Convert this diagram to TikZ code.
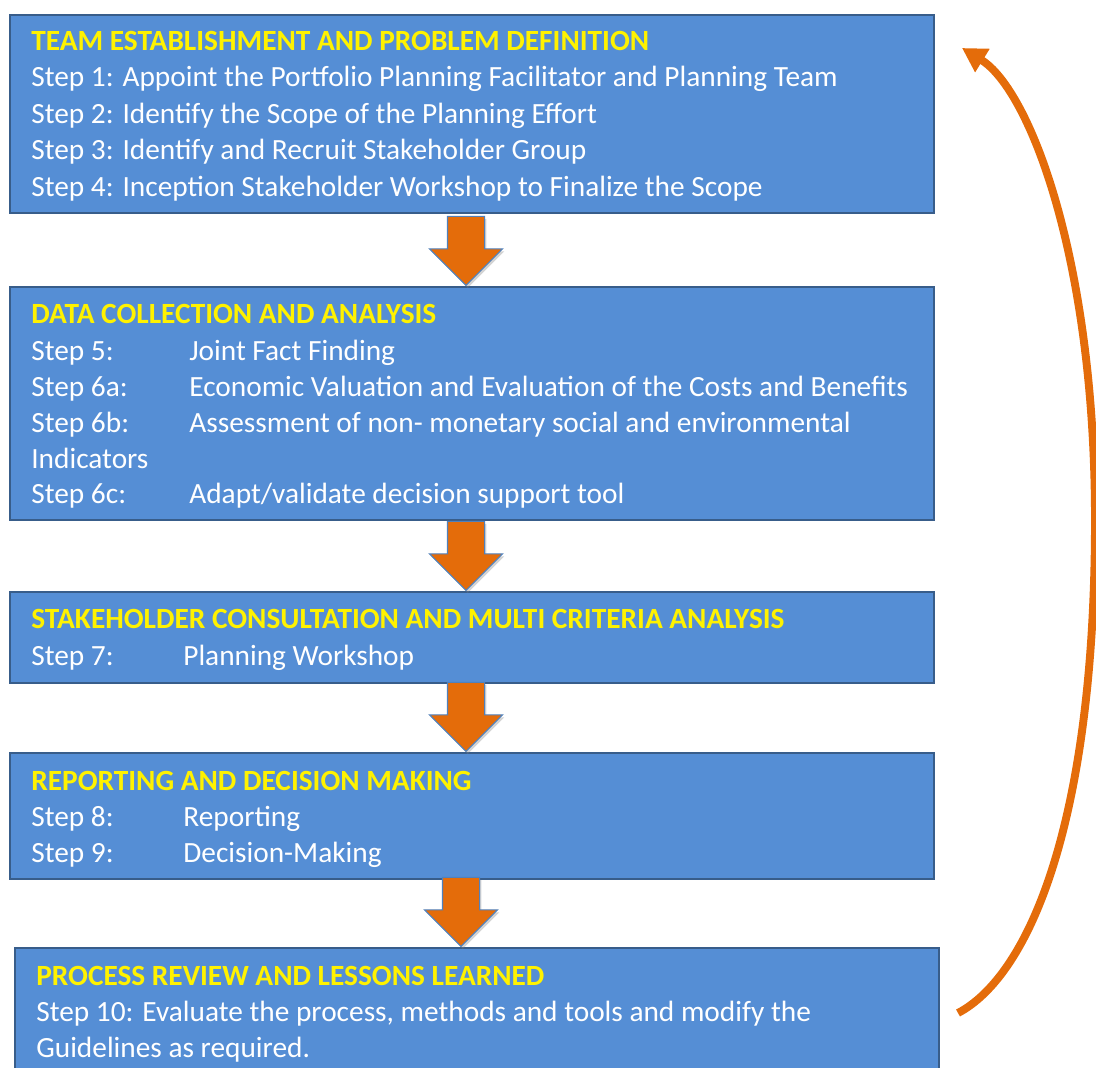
\documentclass[tikz,border=0pt]{standalone}
\usepackage{fontspec}
\setmainfont{Carlito}
\usetikzlibrary{shapes.arrows,arrows.meta,shadows,calc}
\definecolor{boxblue}{RGB}{85,142,213}
\definecolor{boxline}{RGB}{56,93,138}
\definecolor{arrowline}{RGB}{79,129,189}
\definecolor{loopor}{RGB}{228,108,10}
\tikzset{
	stagebox/.style={draw=boxline,line width=1.1pt,fill=boxblue,rectangle,minimum width=18.48cm,inner sep=0pt},
	stagetitle/.style={anchor=base west,inner sep=0pt,text=yellow,font=\fontsize{16.7pt}{20pt}\selectfont\bfseries},
	steptext/.style={anchor=base west,inner sep=0pt,text=white,font=\fontsize{16.7pt}{20pt}\selectfont},
	downarrow/.style={single arrow,shape border rotate=270,anchor=tip,draw=arrowline,line width=0.6pt,fill=loopor,
		minimum height=1.38cm,minimum width=1.44cm,single arrow head extend=0.36cm,inner sep=0.36cm,
		drop shadow={opacity=0.35,shadow xshift=1pt,shadow yshift=-1.5pt}},
}
\begin{document}
\begin{tikzpicture}[x=0.02cm,y=-0.02cm]
	\useasboundingbox (0,0) rectangle (1096,1068) ;
	% boxes
	\node[stagebox,minimum height=3.96cm] (b1) at (472,114) {} ;
	\node[stagebox,minimum height=4.66cm] (b2) at (472,403.5) {} ;
	\node[stagebox,minimum height=1.82cm] (b3) at (472,637.5) {} ;
	\node[stagebox,minimum height=2.52cm] (b4) at (472,816) {} ;
	\node[stagebox,minimum height=2.8cm] (b5) at (477,1018) {} ;
	% block arrows
	\node[downarrow] (a1) at (466,0 |- b2.north) {} ;
	\node[downarrow] (a2) at (466,0 |- b3.north) {} ;
	\node[downarrow] (a3) at (466,0 |- b4.north) {} ;
	\node[downarrow] (a4) at (461,0 |- b5.north) {} ;
	% stage 1
	\node[stagetitle] (t1) at (31,51) {TEAM ESTABLISHMENT AND PROBLEM DEFINITION} ;
	\node[steptext] (s1) at (31,87) {Step 1: Appoint the Portfolio Planning Facilitator and Planning Team} ;
	\node[steptext] (s2) at (31,124) {Step 2: Identify the Scope of the Planning Effort} ;
	\node[steptext] (s3) at (31,160) {Step 3: Identify and Recruit Stakeholder Group} ;
	\node[steptext] (s4) at (31,196) {Step 4: Inception Stakeholder Workshop to Finalize the Scope} ;
	% stage 2
	\node[stagetitle] (t2) at (31,323) {DATA COLLECTION AND ANALYSIS} ;
	\node[steptext] (s5) at (31,360) {Step 5:} ;
	\node[steptext] (s5b) at (189,360) {Joint Fact Finding} ;
	\node[steptext] (s6a) at (31,396) {Step 6a:} ;
	\node[steptext] (s6ab) at (189,396) {Economic Valuation and Evaluation of the Costs and Benefits} ;
	\node[steptext] (s6b) at (31,432) {Step 6b:} ;
	\node[steptext] (s6bb) at (189,432) {Assessment of non- monetary social and environmental} ;
	\node[steptext] (s6bc) at (31,468) {Indicators} ;
	\node[steptext] (s6c) at (31,503) {Step 6c:} ;
	\node[steptext] (s6cb) at (189,503) {Adapt/validate decision support tool} ;
	% stage 3
	\node[stagetitle] (t3) at (31,628) {STAKEHOLDER CONSULTATION AND MULTI CRITERIA ANALYSIS} ;
	\node[steptext] (s7) at (31,665) {Step 7:} ;
	\node[steptext] (s7b) at (183,665) {Planning Workshop} ;
	% stage 4
	\node[stagetitle] (t4) at (31,790) {REPORTING AND DECISION MAKING} ;
	\node[steptext] (s8) at (31,826) {Step 8:} ;
	\node[steptext] (s8b) at (183,826) {Reporting} ;
	\node[steptext] (s9) at (31,862) {Step 9:} ;
	\node[steptext] (s9b) at (183,862) {Decision-Making} ;
	% stage 5
	\node[stagetitle] (t5) at (36,985) {PROCESS REVIEW AND LESSONS LEARNED} ;
	\node[steptext] (s10) at (36,1021) {Step 10: Evaluate the process, methods and tools and modify the} ;
	\node[steptext] (s10b) at (36,1057) {Guidelines as required.} ;
	% feedback loop
	\coordinate (lstart) at (958,1013) ;
	\coordinate (lmid) at (1095,520) ;
	\coordinate (lend) at (962,48) ;
	\draw[loopor,line width=4.5pt,-{Triangle[length=0.48cm,width=0.52cm]}]
		(lstart) .. controls (1030,975) and (1095,820) .. (lmid)
		.. controls (1095,260) and (1030,90) .. (lend) ;
\end{tikzpicture}
\end{document}
